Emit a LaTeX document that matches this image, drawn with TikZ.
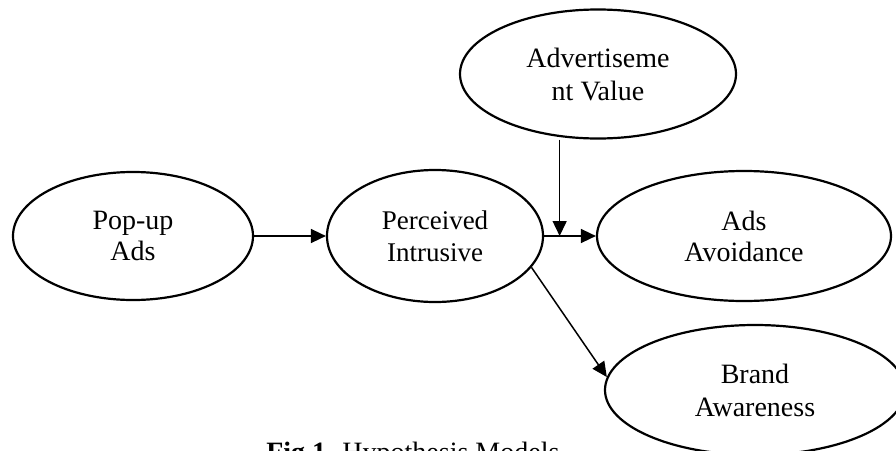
\documentclass[tikz,border=0pt]{standalone}
\usepackage{fontspec}
\setmainfont{Liberation Serif}
\usetikzlibrary{shapes.geometric,arrows.meta,calc}
\begin{document}
\begin{tikzpicture}[x=1pt,y=-1pt]
          \tikzstyle{construct}=[draw,shape=ellipse,line width=2.2pt,inner sep=0pt,align=center,font=\fontsize{28}{31}\selectfont];
          \tikzstyle{link}=[line width=1.5pt,-{Triangle[length=15pt,width=14pt]}];
          %\node[construct,minimum width=...,minimum height=...] (name) at (x,y) {text};
          \clip (0,0) rectangle (896,450);
          \node[construct,minimum width=240pt,minimum height=128pt] (popup) at (133,236) {Pop-up\\Ads};
          \node[construct,minimum width=216pt,minimum height=132pt,font=\fontsize{27}{32}\selectfont] (intrusive) at (435,236) {Perceived\\Intrusive};
          \node[construct,minimum width=276pt,minimum height=129pt,font=\fontsize{28}{33}\selectfont] (value) at (598,74) {Advertiseme\\nt Value};
          \node[construct,minimum width=294pt,minimum height=130pt] (avoidance) at (744,236) {Ads\\Avoidance};
          \node[construct,minimum width=300pt,minimum height=130pt,font=\fontsize{28}{33}\selectfont] (awareness) at (755,390) {Brand\\Awareness};
          \node[anchor=base east,font=\fontsize{28}{31}\selectfont] (caption) at (563,461) {\textbf{Fig 1.} Hypothesis Models};
          \coordinate (join) at ($(intrusive.east)!0.3!(avoidance.west)$);
          \draw[link] (popup.east)--(intrusive.west);
          \draw[link] (intrusive.east)--(avoidance.west);
          \draw[link] (join |- value.south)--(join);
          \draw[link] (intrusive.-18)--(awareness.175);
\end{tikzpicture}
\end{document}
